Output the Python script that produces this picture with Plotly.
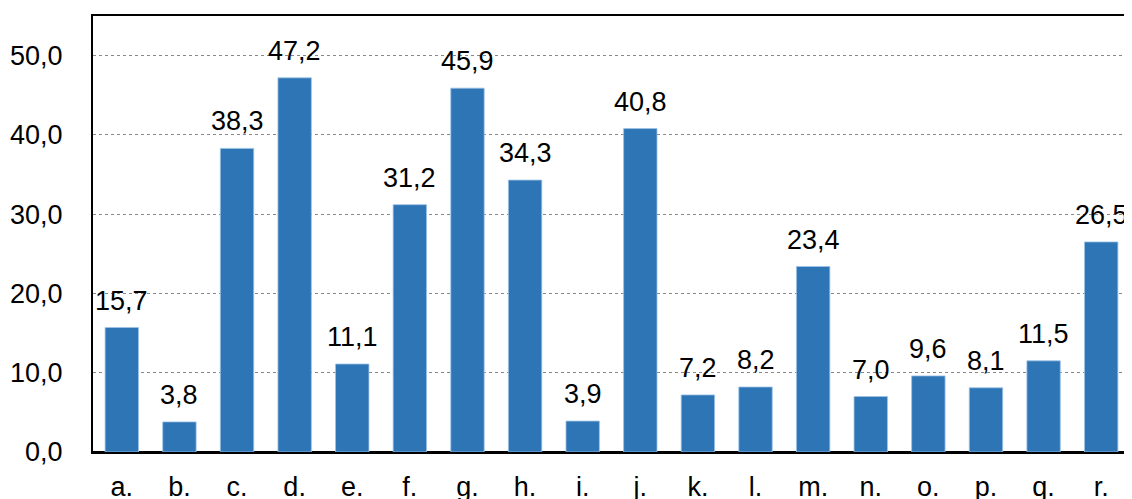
import plotly.graph_objects as go

categories = ["a.", "b.", "c.", "d.", "e.", "f.", "g.", "h.", "i.", "j.",
              "k.", "l.", "m.", "n.", "o.", "p.", "q.", "r."]
values = [15.7, 3.8, 38.3, 47.2, 11.1, 31.2, 45.9, 34.3, 3.9, 40.8,
          7.2, 8.2, 23.4, 7.0, 9.6, 8.1, 11.5, 26.5]
y_ticks = [0, 10, 20, 30, 40, 50]

FONT = "Liberation Sans, Arial, sans-serif"

fig = go.Figure()
fig.add_trace(go.Bar(
    x=categories, y=values,
    marker=dict(color="#2E75B6", line=dict(color="#9DC3E6", width=0.8)),
    width=0.58,
    hoverinfo="skip",
))

annotations = []
for c, v in zip(categories, values):
    annotations.append(dict(
        x=c, y=v, text=f"{v:.1f}".replace(".", ","),
        showarrow=False, yanchor="bottom", yshift=10,
        font=dict(family=FONT, size=27, color="black"),
    ))

fig.update_layout(
    width=1124, height=491,
    margin=dict(l=85, r=2, t=8, b=47, autoexpand=False),
    paper_bgcolor="white", plot_bgcolor="white",
    separators=",.",
    showlegend=False,
    bargap=0.42,
    annotations=annotations,
    font=dict(family=FONT, size=27, color="black"),
    xaxis=dict(
        showline=True, linecolor="black", linewidth=2, mirror=True,
        ticks="", showgrid=False, tickfont=dict(size=27),
        ticklabelstandoff=10, automargin=False,
    ),
    yaxis=dict(
        range=[0, 55], tickvals=y_ticks, tickformat=".1f",
        showline=True, linecolor="black", linewidth=2, mirror=True,
        showgrid=True, gridcolor="#888888", gridwidth=1, griddash="dot",
        ticks="", tickfont=dict(size=27), zeroline=True, zerolinecolor="black",
        zerolinewidth=3, ticklabelstandoff=23, automargin=False,
    ),
)

fig.write_html("out.html")
